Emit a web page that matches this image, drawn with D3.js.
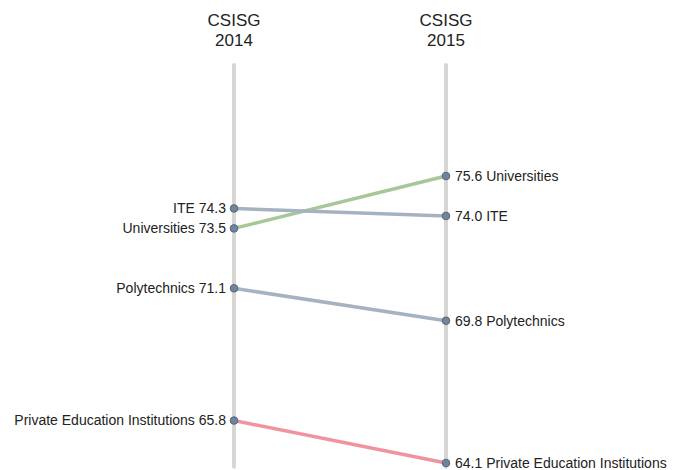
<!DOCTYPE html>
<html lang="en">
<head>
<meta charset="utf-8">
<title>CSISG slope</title>
<script src="https://d3js.org/d3.v7.min.js"></script>
<style>
  body { margin: 0; background: #fff; }
  text { font-family: "Liberation Sans", Arial, sans-serif; fill: #222; }
</style>
</head>
<body>
<div id="chart"></div>
<script>
// data
let sectors = ["Universities", "ITE", "Polytechnics", "Private Education Institutions"];
let years = ["2014", "2015"];
let values2014 = [73.5, 74.3, 71.1, 65.8];
let values2015 = [75.6, 74.0, 69.8, 64.1];
let lineColors = ["#a7c799", "#a5b3c1", "#a5b3c1", "#f0939f"];

let width = 682, height = 470;

let svg = d3.select("#chart").append("svg")
    .attr("width", width)
    .attr("height", height);

let x = d3.scalePoint().domain(years).range([234, 446]);
let y = d3.scaleLinear().domain([64.1, 75.6]).range([463, 176]);

// vertical year axes
svg.selectAll(".axisline")
    .data(years)
    .enter().append("line")
    .attr("x1", d => x(d)).attr("x2", d => x(d))
    .attr("y1", y(80.05)).attr("y2", y(63.95))
    .attr("stroke", "#d6d6d2")
    .attr("stroke-width", 4)
    .attr("stroke-linecap", "round");

// headers
let head = svg.selectAll(".head")
    .data(years)
    .enter().append("text")
    .attr("text-anchor", "middle")
    .style("font-size", "17px");
head.append("tspan").attr("x", d => x(d)).attr("y", 26).text("CSISG");
head.append("tspan").attr("x", d => x(d)).attr("y", 46).text(d => d);

let rows = sectors.map((s, i) => ({name: s, a: values2014[i], b: values2015[i], color: lineColors[i]}));

// slope lines
svg.selectAll(".slope")
    .data(rows)
    .enter().append("line")
    .attr("x1", x("2014")).attr("y1", d => y(d.a))
    .attr("x2", x("2015")).attr("y2", d => y(d.b))
    .attr("stroke", d => d.color)
    .attr("stroke-width", 3.5);

// dots
["a", "b"].forEach((k, j) => {
  svg.selectAll(".dot" + k)
      .data(rows)
      .enter().append("circle")
      .attr("cx", x(years[j]))
      .attr("cy", d => y(d[k]))
      .attr("r", 3.8)
      .attr("fill", "#70849b")
      .attr("stroke", "#56687d")
      .attr("stroke-width", 1);
});

// labels
svg.selectAll(".labl")
    .data(rows)
    .enter().append("text")
    .attr("x", x("2014") - 8)
    .attr("y", d => y(d.a))
    .attr("dy", "0.35em")
    .attr("text-anchor", "end")
    .style("font-size", "14px")
    .text(d => d.name + " " + d.a.toFixed(1));

svg.selectAll(".labr")
    .data(rows)
    .enter().append("text")
    .attr("x", x("2015") + 9)
    .attr("y", d => y(d.b))
    .attr("dy", "0.35em")
    .style("font-size", "14px")
    .text(d => d.b.toFixed(1) + " " + d.name);
</script>
</body>
</html>
